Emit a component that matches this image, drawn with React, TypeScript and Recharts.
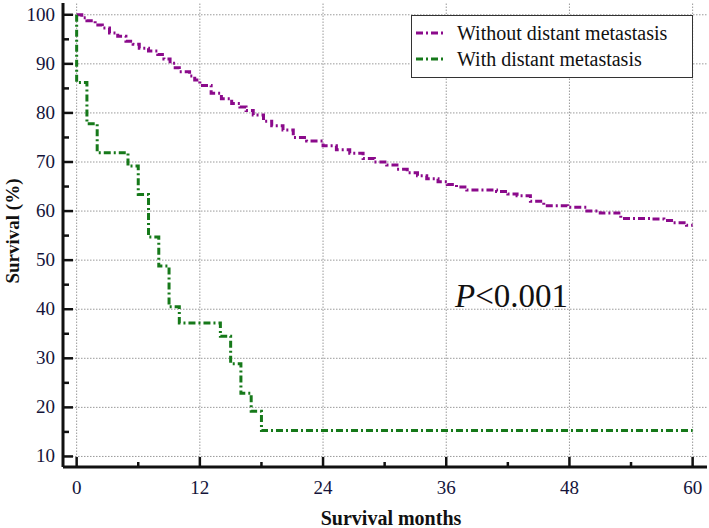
import React from "react";
import {
  LineChart,
  Line,
  XAxis,
  YAxis,
  ReferenceLine,
  Legend,
  Customized,
} from "recharts";

const FONT = "Liberation Serif, DejaVu Serif, serif";
const PURPLE = "#8b0a8b";
const GREEN = "#16791a";
const DASH = "7 3 2 3";

// Kaplan-Meier steps
const withoutMonths = [
  0, 0.5, 1, 1.8, 2.5, 3.2, 4, 4.8, 5.5, 6.1, 7, 7.9, 8.5, 9.1, 9.6, 10, 11, 11.5, 12, 13.1,
  14.1, 15.1, 15.9, 16.5, 17.2, 18.2, 19, 20.1, 21.1, 22.4, 24, 25.3, 26.6, 27.9, 29, 30.2,
  31.2, 32.2, 33.2, 34.1, 35.2, 36.1, 37, 38, 40.9, 42, 42.9, 44.2, 45.5, 47.8, 49.7, 51, 53,
  56, 57.2, 58.1, 59.4, 60,
];
const withoutSurvival = [
  100, 99.4, 98.8, 97.9, 97.3, 96.3, 95.6, 94.6, 94.0, 93.2, 92.6, 91.9, 91.0, 90.1, 89.2,
  88.4, 87.5, 86.7, 85.6, 84.0, 82.9, 81.9, 81.2, 80.5, 79.6, 78.3, 77.4, 76.5, 75.0, 74.3,
  73.3, 72.5, 71.8, 70.7, 70.0, 69.4, 68.5, 67.8, 67.2, 66.6, 66.0, 65.4, 64.9, 64.3, 64.0,
  63.5, 63.1, 62.0, 61.1, 60.8, 60.0, 59.6, 58.5, 58.4, 58.1, 57.6, 57.1, 57.1,
];

const withMonths = [0, 0, 1, 2, 5, 6, 7, 8, 9, 10, 14, 15, 16, 17, 18, 60];
const withSurvival = [
  100, 86.2, 77.8, 71.9, 69.2, 63.4, 54.7, 48.8, 40.5, 37.2, 34.5, 28.9, 22.9, 19.2, 15.3, 15.3,
];

const xTicks = [0, 6, 12, 18, 24, 30, 36, 42, 48, 54, 60];
const xMajor = [0, 12, 24, 36, 48, 60];
const yTicks = [10, 15, 20, 25, 30, 35, 40, 45, 50, 55, 60, 65, 70, 75, 80, 85, 90, 95, 100];
const yMajor = [10, 20, 30, 40, 50, 60, 70, 80, 90, 100];

const seriesNames = ["Without distant metastasis", "With distant metastasis"];

const withoutData = withoutMonths.map((t, i) => ({ t, s: withoutSurvival[i] }));
const withData = withMonths.map((t, i) => ({ t, s: withSurvival[i] }));

const TICK_MARGIN = 8;

function YTick(props: any) {
  const { x, y, payload } = props;
  const major = yMajor.includes(payload.value);
  const x0 = x + TICK_MARGIN;
  return (
    <g>
      <line x1={x0} x2={x0 + (major ? 10 : 6)} y1={y} y2={y} stroke="#111" strokeWidth={2.5} />
      {major && (
        <text
          x={x}
          y={y}
          dy={6}
          textAnchor="end"
          style={{ fontFamily: FONT, fontSize: 19 }}
          fill="#14143a"
        >
          {payload.value}
        </text>
      )}
    </g>
  );
}

function XTick(props: any) {
  const { x, y, payload } = props;
  const major = xMajor.includes(payload.value);
  const y0 = y - TICK_MARGIN;
  return (
    <g>
      <line x1={x} x2={x} y1={y0} y2={y0 - (major ? 10 : 5)} stroke="#111" strokeWidth={2.5} />
      {major && (
        <text
          x={x}
          y={y}
          dy={19}
          textAnchor="middle"
          style={{ fontFamily: FONT, fontSize: 19 }}
          fill="#14143a"
        >
          {payload.value}
        </text>
      )}
    </g>
  );
}

function LegendBox() {
  const colors = [PURPLE, GREEN];
  return (
    <div
      style={{
        position: "relative",
        width: 282,
        height: 63,
        boxSizing: "border-box",
        border: "1.5px solid #333",
        background: "#fff",
        fontFamily: FONT,
        fontSize: 20,
        color: "#111",
      }}
    >
      {seriesNames.map((name, i) => (
        <div
          key={name}
          style={{
            position: "absolute",
            left: 4,
            top: 5 + i * 26,
            height: 24,
            display: "flex",
            alignItems: "center",
            whiteSpace: "nowrap",
          }}
        >
          <svg width={28} height={6} style={{ marginRight: 13 }}>
            <line x1={0} x2={28} y1={3} y2={3} stroke={colors[i]} strokeWidth={3} strokeDasharray={DASH} />
          </svg>
          <span>{name}</span>
        </div>
      ))}
    </div>
  );
}

function PValue() {
  return (
    <text x={455} y={307} style={{ fontFamily: FONT, fontSize: 33 }} fill="#111">
      <tspan fontStyle="italic">P</tspan>
      <tspan>{"<0.001"}</tspan>
    </text>
  );
}

export default function App() {
  return (
    <div style={{ position: "absolute", left: 0, top: 0, background: "#fff" }}>
      <LineChart width={709} height={528} margin={{ top: 3, right: 2, left: 0, bottom: 0 }}>
        {yMajor.map((v) => (
          <ReferenceLine key={"h" + v} y={v} stroke="#9a9a9a" strokeWidth={1} strokeDasharray="1.5 1.5" />
        ))}
        {xMajor.map((v) => (
          <ReferenceLine key={"v" + v} x={v} stroke="#9a9a9a" strokeWidth={1} strokeDasharray="1.5 1.5" />
        ))}
        <XAxis
          type="number"
          dataKey="t"
          domain={[-1.33, 61.4]}
          allowDataOverflow
          ticks={xTicks}
          interval={0}
          height={61}
          tickSize={0}
          tickMargin={TICK_MARGIN}
          axisLine={{ stroke: "#111", strokeWidth: 3 }}
          tickLine={false}
          tick={<XTick />}
          label={(p: any) => {
            const vb = p.viewBox;
            return (
              <text
                x={vb.x + vb.width / 2 + 6}
                y={vb.y + 58}
                textAnchor="middle"
                style={{ fontFamily: FONT, fontSize: 20, fontWeight: "bold" }}
                fill="#111"
              >
                Survival months
              </text>
            );
          }}
        />
        <YAxis
          type="number"
          dataKey="s"
          domain={[7.85, 102.4]}
          allowDataOverflow
          ticks={yTicks}
          interval={0}
          width={63}
          tickSize={0}
          tickMargin={TICK_MARGIN}
          axisLine={{ stroke: "#111", strokeWidth: 3 }}
          tickLine={false}
          tick={<YTick />}
          label={(p: any) => {
            const vb = p.viewBox;
            const cx = vb.x + 12;
            const cy = vb.y + vb.height / 2 - 4;
            return (
              <text
                x={cx}
                y={cy}
                transform={`rotate(-90 ${cx} ${cy})`}
                textAnchor="middle"
                dominantBaseline="central"
                style={{ fontFamily: FONT, fontSize: 19, fontWeight: "bold" }}
                fill="#111"
              >
                Survival (%)
              </text>
            );
          }}
        />
        <Line
          data={withoutData}
          dataKey="s"
          name={seriesNames[0]}
          type="stepAfter"
          stroke={PURPLE}
          strokeWidth={3}
          strokeDasharray={DASH}
          dot={false}
          isAnimationActive={false}
        />
        <Line
          data={withData}
          dataKey="s"
          name={seriesNames[1]}
          type="stepAfter"
          stroke={GREEN}
          strokeWidth={3}
          strokeDasharray={DASH}
          dot={false}
          isAnimationActive={false}
        />
        <Legend
          layout="horizontal"
          verticalAlign="middle"
          align="center"
          wrapperStyle={{ top: 15, left: 411, width: 282, height: 63 }}
          content={() => <LegendBox />}
        />
        <Customized component={PValue} />
      </LineChart>
    </div>
  );
}
